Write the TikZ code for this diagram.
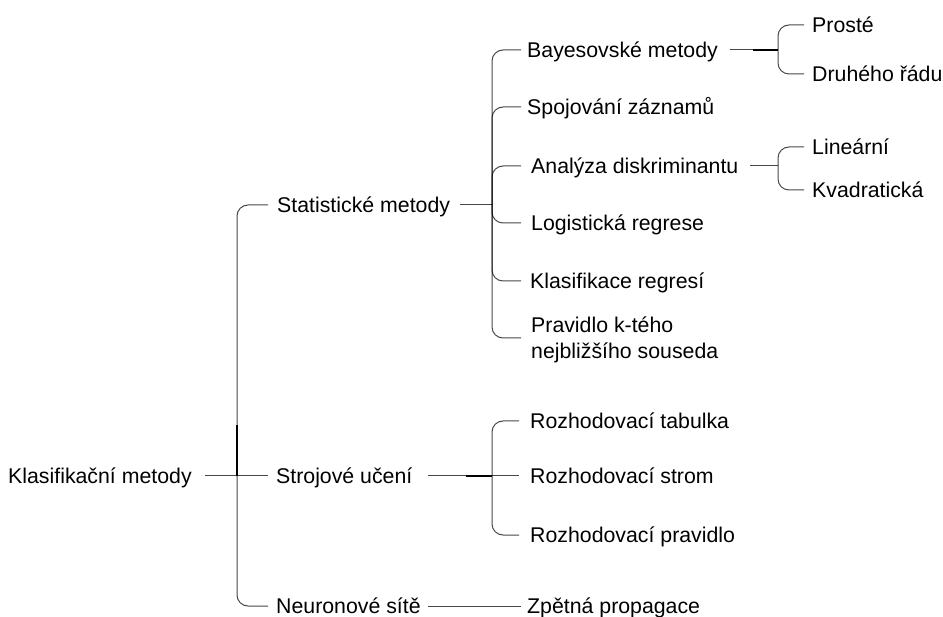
\documentclass[tikz,border=0pt]{standalone}
\usepackage{fontspec}
\setmainfont{Liberation Sans}
\begin{document}
\begin{tikzpicture}[x=1pt,y=-1pt,
  txt/.style={inner sep=0pt, font=\fontsize{21.3}{25.6}\selectfont},
  lbl/.style={txt, anchor=west, text height=15.3pt, text depth=0pt},
  conn/.style={draw=black, draw opacity=0.72, line width=1pt, rounded corners=11pt},
  heavy/.style={draw=black, line width=1.4pt}]
\useasboundingbox[fill=white] (0,0) rectangle (943,617);

% labels
\node[lbl] (root)  at (8,476)   {Klasifikační metody};
\node[lbl] (stat)  at (277,205) {Statistické metody};
\node[lbl] (stroj) at (276,476) {Strojové učení};
\node[lbl] (neur)  at (276,606) {Neuronové sítě};

\node[lbl] (bayes) at (527,50)  {Bayesovské metody};
\node[lbl] (spoj)  at (527,107) {Spojování záznamů};
\node[lbl] (anal)  at (531,166) {Analýza diskriminantu};
\node[lbl] (logit) at (531,223) {Logistická regrese};
\node[lbl] (klas)  at (530,281) {Klasifikace regresí};
% two-line label: the base anchor sits on the last line
\node[txt, align=left, anchor=base west] (knn) at (531,358.3)
  {Pravidlo k-tého\\nejbližšího souseda};

\node[lbl] (tab)   at (530,421) {Rozhodovací tabulka};
\node[lbl] (strom) at (530,476) {Rozhodovací strom};
\node[lbl] (prav)  at (530,535) {Rozhodovací pravidlo};

\node[lbl] (zpet)  at (527,606) {Zpětná propagace};

\node[lbl] (prost) at (812,25)  {Prosté};
\node[lbl] (druh)  at (812,74)  {Druhého řádu};
\node[lbl] (lin)   at (812,147) {Lineární};
\node[lbl] (kvad)  at (812,190) {Kvadratická};

% stub starts, junctions and connector ends
\coordinate (s0) at (205,476);
\coordinate (s1) at (460,205);
\coordinate (s2) at (428,476);
\coordinate (s3) at (428,606);
\coordinate (s4) at (730,50);
\coordinate (s5) at (750,166);

\coordinate (j0) at (237,476);
\coordinate (j1) at (492,205);
\coordinate (j2) at (492,476);
\coordinate (j3) at (778,50);
\coordinate (j4) at (778,166);

\coordinate (e0) at (268,0);
\coordinate (e1) at (521,0);
\coordinate (e2) at (519,0);
\coordinate (e3) at (804,0);
\coordinate (knnrow) at ([yshift=20.3pt]knn.base west);

% root bracket
\draw[conn] (s0) -- (j0);
\draw[conn] (j0) |- (e0 |- stat.west);
\draw[conn] (j0) -- (e0 |- stroj.west);
\draw[conn] (j0) |- (e0 |- neur.west);
\draw[heavy] (j0) -- ++(0,-51);

% statistical methods
\draw[conn] (s1) -- (j1);
\foreach \c in {bayes,spoj,anal,logit,klas}
  \draw[conn] (j1) |- (e1 |- \c.west);
\draw[conn] (j1) |- (e1 |- knnrow);

% machine learning
\draw[conn] (s2) -- (j2);
\draw[conn] (j2) |- (e2 |- tab.west);
\draw[conn] (j2) -- (e2 |- strom.west);
\draw[conn] (j2) |- (e2 |- prav.west);
\draw[heavy] (j2) -- ++(-26,0);

% neural networks
\draw[conn] (s3) -- (e1 |- zpet.west);

% Bayesian methods
\draw[conn] (s4) -- (j3);
\draw[conn] (j3) |- (e3 |- prost.west);
\draw[conn] (j3) |- (e3 |- druh.west);
\draw[heavy] (j3) -- ++(-25,0);

% discriminant analysis
\draw[conn] (s5) -- (j4);
\draw[conn] (j4) |- (e3 |- lin.west);
\draw[conn] (j4) |- (e3 |- kvad.west);
\end{tikzpicture}
\end{document}
